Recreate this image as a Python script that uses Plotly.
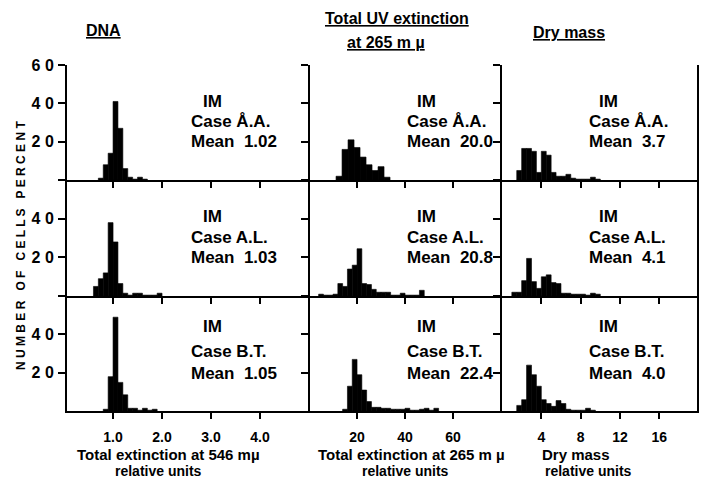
import plotly.graph_objects as go

# ---------------- data ----------------
# DNA: total extinction at 546 mµ (bin width 0.1)
dna_aa_x = [0.75, 0.85, 0.95, 1.05, 1.15, 1.25, 1.35, 1.45, 1.55, 1.65]
dna_aa_y = [1, 8, 14, 41, 27, 6, 1.5, 0.5, 1.5, 0.5]
dna_al_x = [0.65, 0.75, 0.85, 0.95, 1.05, 1.15, 1.25, 1.35, 1.45, 1.55, 1.65, 1.75, 1.85, 1.95]
dna_al_y = [5, 9, 12, 38, 28, 6.5, 1.5, 0.5, 1.5, 1.5, 0.5, 0.5, 0.5, 1.5]
dna_bt_x = [0.85, 0.95, 1.05, 1.15, 1.25, 1.35, 1.45, 1.55, 1.65, 1.75, 1.85]
dna_bt_y = [1, 18, 49, 15, 8.5, 1.5, 1.5, 0.5, 1.5, 0.5, 1]

# Total UV extinction at 265 mµ
uv_aa_x = [12.5, 15, 17.5, 20, 22.5, 25, 27.5, 30, 32.5]
uv_aa_y = [2, 16, 21, 17, 12, 8, 5, 7, 1.5]
uv_al_x = [5, 7, 9, 11, 13, 15, 17, 19, 21, 23, 25, 27, 29, 31, 33, 35, 37, 39, 41, 43, 45, 47]
uv_al_y = [1, 0.5, 0.5, 1, 6.5, 5, 14, 16, 24.5, 6.5, 6, 3.5, 2, 2, 2, 0.5, 0.5, 1.5, 0.5, 0.5, 0.5, 3]
uv_bt_x = [15, 17, 19, 21, 23, 25, 27, 29, 31, 33, 35, 37, 39, 41, 43, 45, 47, 49, 51, 53]
uv_bt_y = [1, 13, 27, 19, 11, 5, 2, 2, 1.5, 1.5, 1, 1, 1, 1.5, 0.5, 0.5, 1, 1.5, 0.5, 1.5]

# Dry mass (bin width 0.5)
dm_aa_x = [1.75, 2.25, 2.75, 3.25, 3.75, 4.25, 4.75, 5.25, 5.75, 6.25, 6.75, 7.25, 7.75, 8.25, 8.75, 9.25, 9.75]
dm_aa_y = [5, 16.5, 16.5, 15, 4, 15, 13, 4, 2, 2, 3, 1, 0.5, 0.5, 0.5, 1.5, 0.5]
dm_al_x = [1.25, 1.75, 2.25, 2.75, 3.25, 3.75, 4.25, 4.75, 5.25, 5.75, 6.25, 6.75, 7.25, 7.75, 8.25, 8.75, 9.25, 9.75]
dm_al_y = [2, 2, 8, 19.5, 7.5, 4, 10, 11, 7, 6.5, 1.5, 1.5, 1, 1, 1, 0.5, 1.5, 1]
dm_bt_x = [1.75, 2.25, 2.75, 3.25, 3.75, 4.25, 4.75, 5.25, 5.75, 6.25, 6.75, 7.25, 7.75, 8.25, 8.75, 9.25]
dm_bt_y = [3, 6, 24, 19, 13, 6, 4, 2.5, 5.5, 4, 1, 0.5, 0.5, 0.5, 1.5, 0.5]

bin_widths = [0.1, None, 0.5]   # UV widths set per case below
uv_widths = [2.5, 2.0, 2.0]

cases = ["Å.A.", "A.L.", "B.T."]
means = [["1.02", "20.0", "3.7"],
         ["1.03", "20.8", "4.1"],
         ["1.05", "22.4", "4.0"]]

x_tickvals = [[1, 2, 3, 4], [20, 40, 60], [4, 8, 12, 16]]
x_ticktext = [["1.0", "2.0", "3.0", "4.0"], ["20", "40", "60"], ["4", "8", "12", "16"]]
x_titles = [["Total extinction at 546 mµ", "relative units"],
            ["Total extinction at 265 m µ", "relative units"],
            ["Dry mass", "relative units"]]
col_titles = ["DNA", "Total UV extinction", "at 265 m µ", "Dry mass"]
y_title = "N U M B E R   O F   C E L L S   P E R C E N T"

series = [[(dna_aa_x, dna_aa_y), (uv_aa_x, uv_aa_y), (dm_aa_x, dm_aa_y)],
          [(dna_al_x, dna_al_y), (uv_al_x, uv_al_y), (dm_al_x, dm_al_y)],
          [(dna_bt_x, dna_bt_y), (uv_bt_x, uv_bt_y), (dm_bt_x, dm_bt_y)]]

# ---------------- layout geometry ----------------
W, H = 704, 479
col_px = [(67, 310), (310, 502), (502, 697)]
row_px = [(58, 175), (175, 293), (293, 410)]
x_ranges = [[0.06, 5.02], [0.4, 80.4], [0, 19.84]]
text_x = [(2.8, 2.55), (44, 40), (9.7, 8.65)]
text_y = [(41, 30.5, 20), (41, 30.5, 20), (44, 31, 19.5)]

FONT = "Liberation Sans"
fig = go.Figure()
layout = dict(width=W, height=H, margin=dict(l=0, r=0, t=0, b=0), autosize=False,
              paper_bgcolor="white", plot_bgcolor="white", showlegend=False,
              font=dict(family=FONT, color="black"))
annotations = []

for r in range(3):
    for c in range(3):
        i = r * 3 + c + 1
        xs, ys = series[r][c]
        w = uv_widths[r] if c == 1 else bin_widths[c]
        fig.add_trace(go.Bar(x=xs, y=ys, width=w,
                             marker=dict(color="black", line=dict(width=0.6, color="black")),
                             xaxis=f"x{i}", yaxis=f"y{i}", hoverinfo="skip"))
        xd = [col_px[c][0] / W, col_px[c][1] / W]
        yd = [1 - row_px[r][1] / H, 1 - row_px[r][0] / H]
        layout[f"xaxis{i}"] = dict(
            domain=xd, range=x_ranges[c], anchor=f"y{i}", showline=True, linecolor="black",
            linewidth=2, ticks="outside", ticklen=6, tickwidth=2, tickcolor="black",
            tickvals=x_tickvals[c], ticktext=x_ticktext[c], showticklabels=(r == 2),
            ticklabelstandoff=6,
            tickfont=dict(family=FONT, size=14, weight="bold"),
            showgrid=False, zeroline=False, fixedrange=True)
        ytext = ["2 0", "4 0", "6 0" if r == 0 else ""]
        layout[f"yaxis{i}"] = dict(
            domain=yd, range=[0, 60], anchor=f"x{i}", showline=True, linecolor="black",
            linewidth=2, ticks="outside", ticklen=7, tickwidth=2, tickcolor="black",
            tickvals=[20, 40, 60], ticktext=ytext, showticklabels=(c == 0),
            ticklabelstandoff=1,
            tickfont=dict(family=FONT, size=16, weight="bold"),
            mirror=(c == 2), showgrid=False, zeroline=False, fixedrange=True)
        tf = dict(family=FONT, size=17, color="black", weight="bold")
        lines = ["IM", "Case " + cases[r], "Mean  " + means[r][c]]
        for k, txt in enumerate(lines):
            annotations.append(dict(xref=f"x{i}", yref=f"y{i}",
                                    x=text_x[c][0] if k == 0 else text_x[c][1],
                                    y=text_y[r][k], text=txt, showarrow=False,
                                    xanchor="left", yanchor="middle", font=tf))

# column titles
title_font = dict(family=FONT, size=16, color="black", weight="bold", lineposition="under")
for txt, (px, py) in zip(col_titles, [(103, 23), (397, 11), (386, 35), (569, 25)]):
    annotations.append(dict(xref="paper", yref="paper", x=px / W, y=1 - py / H, text=txt,
                            showarrow=False, xanchor="center", yanchor="middle", font=title_font))

# x-axis titles
xt_pos = [[(168, 454), (158, 470.5)], [(411, 454), (405, 470.5)], [(540, 454), (543, 470.5)]]
xt_sizes = [15, 14]
for c in range(3):
    for k in range(2):
        px, py = xt_pos[c][k]
        annotations.append(dict(xref="paper", yref="paper", x=px / W, y=1 - py / H,
                                text=x_titles[c][k], showarrow=False,
                                xanchor="left" if c == 2 else "center", yanchor="middle",
                                font=dict(family=FONT, size=xt_sizes[k], color="black",
                                          weight="bold")))

# y-axis title
annotations.append(dict(xref="paper", yref="paper", x=21 / W, y=1 - 242 / H, text=y_title,
                        textangle=-90, showarrow=False, xanchor="center", yanchor="middle",
                        font=dict(family=FONT, size=12, color="black", weight="bold")))

layout["annotations"] = annotations
fig.update_layout(**layout)
fig.write_html("out.html")
